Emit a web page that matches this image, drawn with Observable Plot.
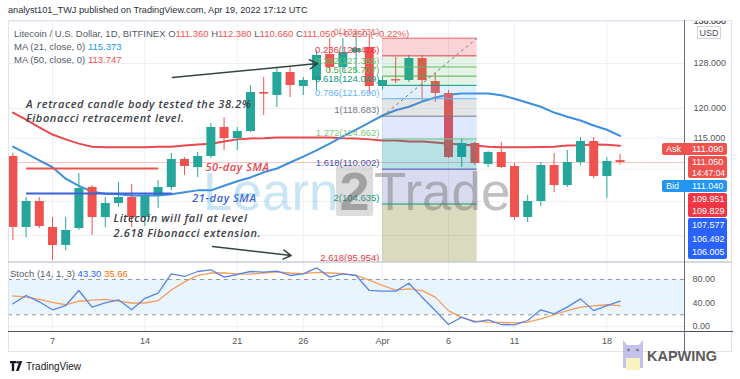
<!DOCTYPE html>
<html><head><meta charset="utf-8">
<script src="https://cdn.jsdelivr.net/npm/d3@7"></script>
<script src="https://cdn.jsdelivr.net/npm/@observablehq/plot@0.6"></script>
<style>
html,body{margin:0;padding:0;background:#fff;}
#root{position:relative;width:740px;height:379px;overflow:hidden;}
#root svg{position:absolute;left:0;}
</style></head><body><div id="root"></div>
<script>
const UI = "'Liberation Sans', Arial, sans-serif";
const NOTE_FONT = "'Open Sans', 'Liberation Sans', sans-serif";

// ---- data (Litecoin / USD, daily, Bitfinex) ----
const dates = ["2022-03-04","2022-03-05","2022-03-06","2022-03-07","2022-03-08","2022-03-09","2022-03-10","2022-03-11","2022-03-12","2022-03-13","2022-03-14","2022-03-15","2022-03-16","2022-03-17","2022-03-18","2022-03-19","2022-03-20","2022-03-21","2022-03-22","2022-03-23","2022-03-24","2022-03-25","2022-03-26","2022-03-27","2022-03-28","2022-03-29","2022-03-30","2022-03-31","2022-04-01","2022-04-02","2022-04-03","2022-04-04","2022-04-05","2022-04-06","2022-04-07","2022-04-08","2022-04-09","2022-04-10","2022-04-11","2022-04-12","2022-04-13","2022-04-14","2022-04-15","2022-04-16","2022-04-17","2022-04-18","2022-04-19"];
const open  = [112.01,101.17,105.01,101.17,98.59,101.02,107.14,102.63,104.71,105.61,102.63,105.92,107.14,111.53,110.26,112.01,116.77,114.94,116.10,122.79,122.26,126.36,123.85,124.92,129.67,127.27,130.04,130.98,123.85,124.83,124.92,128.93,124.74,122.61,111.85,114.12,110.74,112.66,110.42,102.63,105.01,110.58,107.45,111.05,114.45,108.85,111.36];
const high  = [112.50,105.61,105.61,102.63,102.63,109.31,107.45,105.61,107.91,107.60,106.22,108.22,112.50,111.85,112.66,117.44,118.46,116.77,124.03,125.46,127.27,127.27,125.46,130.41,132.68,132.68,134.00,133.25,125.46,129.11,129.48,129.48,126.18,123.14,114.94,114.29,112.82,114.29,110.89,105.92,111.05,112.50,112.98,115.11,115.11,111.85,112.38];
const low   = [99.30,99.72,101.02,96.49,97.88,100.73,100.01,101.17,104.11,101.17,101.31,103.96,106.68,109.00,108.69,111.69,112.98,112.98,115.94,118.80,120.17,121.91,122.26,123.14,126.18,126.36,126.36,122.61,123.14,124.38,124.56,121.39,121.04,111.69,110.26,110.58,110.26,110.10,102.19,101.89,104.26,106.37,107.14,110.58,108.53,105.46,110.66];
const close = [101.17,105.01,101.31,98.59,100.73,106.99,102.63,104.71,105.61,102.63,105.77,107.14,111.53,110.42,112.01,116.77,114.94,116.10,122.79,122.50,126.36,124.03,124.92,129.48,127.27,130.04,130.79,123.85,124.92,124.65,128.93,124.92,122.61,111.85,114.12,110.89,112.66,110.26,102.63,105.01,110.58,107.45,111.05,114.45,108.85,111.21,111.05];
const ma21  = [113.6,112.5,111.4,110.3,108.5,107.4,106.5,106.2,106.1,105.9,105.9,105.9,106.1,106.4,106.7,106.7,107.4,108.1,108.7,109.5,110.1,111.05,112.0,113.0,114.1,115.3,116.4,117.6,118.8,119.7,120.3,121.2,121.9,122.4,122.6,122.6,122.6,122.3,121.7,121.0,120.3,119.3,118.6,117.95,117.1,116.4,115.37];
const ma50  = [119.3,118.1,116.8,115.6,114.8,114.1,113.6,113.5,113.5,113.5,113.5,113.6,113.6,113.8,113.95,114.1,114.45,114.8,114.95,115.0,115.1,115.1,115.1,115.1,115.1,115.0,114.95,114.8,114.6,114.6,114.45,114.45,114.3,114.1,113.95,113.8,113.6,113.5,113.5,113.5,113.55,113.6,113.8,113.85,113.95,113.9,113.75];
const stochK = [38.6,52.8,42,28.4,35.7,61.3,32.9,40,45.4,28.4,48,56.7,89.6,85.1,93.6,96.5,84,88.5,93.6,92.5,94.2,86.8,89.6,99.9,84,89.6,86.8,61.3,60.2,60.2,73.7,49.9,27.2,3.4,15.9,7.4,11.3,3.4,2.8,10.2,28.4,21.6,32.9,47,27,35.5,43.3];
const stochD = [52,50,46,41,37,43,45,46,43,40,40,44,62,76,87,91,91,89.6,89,91,93,91,90,92,91,90,87,79,70,62,64,61,50,27,15,9,7.4,7,6,7.4,13,20,27,33,35,37,35.66];

const tickDates  = ["2022-03-07","2022-03-14","2022-03-21","2022-03-26","2022-04-01","2022-04-06","2022-04-11","2022-04-18"];
const tickLabels = ["7","14","21","26","Apr","6","11","18"];
const priceTicks = [100,105,110,115,120,128,136];
const stochTicks = [0,40,80];

// Fibonacci extension drawing
const fibStart = "2022-04-01", fibEnd = "2022-04-08T04:00";
const fibLevels = [0,0.236,0.382,0.5,0.618,0.786,1,1.272,1.618,2,2.618];
const fibPrices = [132.731,129.416,127.365,125.707,124.049,121.690,118.683,114.862,110.002,104.635,95.954];
const fibLineColors = ["#e57373","#f23645","#66bb6a","#4caf50","#089981","#64b5f6","#787b86","#81c784","#3f51b5","#089981","#f23645"];
const fibZoneColors = ["#f23645","#4caf50","#4caf50","#4caf50","#64b5f6","#787b86","#2962ff","#0097a7","#3f51b5","#6b6b00"];
const fibZoneAlpha  = [0.22,0.15,0.15,0.15,0.2,0.2,0.15,0.28,0.2,0.25];

// author's annotations (anchored in time / price like TradingView drawings)
const noteTexts  = ["A retraced candle body tested the 38.2%\nFibonacci retracement level.","Litecoin will fall at level\n2.618 Fibonacci extension.","50-day SMA","21-day SMA"];
const noteDates  = ["2022-03-05","2022-03-11T15:00","2022-03-18T14:00","2022-03-17T14:00"];
const notePrices = [119.66,101.53,110.42,105.61];
const noteColors = ["#3b3e46","#3b3e46","#e5484d","#3a63d6"];
const segFrom = ["2022-03-05","2022-03-05"], segTo = ["2022-03-15","2022-03-16T01:00"];
const segPrices = [110.10,106.22], segColors = ["#ef5350","#3a63d6"];
const arrowFrom = ["2022-03-16T02:00","2022-03-19T03:00"], arrowTo = ["2022-03-27T02:00","2022-03-25T02:00"];
const arrowP1 = [125.46,98.45], arrowP2 = [128.0,97.18];

// price scale tags
const tagTexts = [["Ask","111.090"],["111.050","14:47:04"],["Bid","111.040"],["109.951","109.829"],["107.577","106.492","106.005"]];

// ---- build ----
const T = s => new Date(s.length > 10 ? s + "Z" : s + "T00:00Z");
const DAY = 864e5;
const rows = dates.map((d,i)=>({date:T(d),open:open[i],high:high[i],low:low[i],close:close[i],ma21:ma21[i],ma50:ma50[i],k:stochK[i],d:stochD[i]}));
const xDomain = [new Date(+rows[0].date - 0.333*DAY), new Date(+rows[rows.length-1].date + 4.88*DAY)];
const UP = "#26a69a", DOWN = "#ef5350";
const dir = d => d.close >= d.open ? UP : DOWN;
const ticksT = tickDates.map(T);
const tickLab = new Map(ticksT.map((d,i)=>[+d, tickLabels[i]]));

const fib = fibLevels.map((l,i)=>({level:l, price:fibPrices[i], color:fibLineColors[i]}));
const zones = fibZoneColors.map((c,i)=>({top:fibPrices[i], bottom:fibPrices[i+1], color:c, op:fibZoneAlpha[i]}));
const notes = noteTexts.map((t,i)=>({text:t, date:T(noteDates[i]), price:notePrices[i], color:noteColors[i]}));
const segs = segFrom.map((s,i)=>({x1:T(s), x2:T(segTo[i]), y:segPrices[i], color:segColors[i]}));
const arrows = arrowFrom.map((s,i)=>({x1:T(s), x2:T(arrowTo[i]), y1:arrowP1[i], y2:arrowP2[i]}));
const lastClose = close[close.length-1];

const root = document.getElementById("root");

const main = Plot.plot({
  width: 740, height: 242, marginLeft: 8, marginRight: 56, marginTop: 0, marginBottom: 0,
  x: {type: "utc", domain: xDomain, axis: null},
  y: {type: "log", domain: [96.21, 136.15], axis: null},
  color: {type: "identity"},
  style: {background: "transparent", color: "#555", fontFamily: UI, fontSize: "9px"},
  marks: [
    Plot.ruleX(ticksT, {stroke: "#eef0f5"}),
    Plot.ruleY(priceTicks, {stroke: "#eef0f5"}),
    Plot.ruleY([lastClose], {stroke: "#ef5350", strokeOpacity: 0.35}),
    Plot.line(rows, {x: "date", y: "ma50", stroke: "#e8494e", strokeWidth: 2}),
    Plot.line(rows, {x: "date", y: "ma21", stroke: "#3d8fe0", strokeWidth: 2}),
    Plot.ruleX(rows, {x: "date", y1: "low", y2: "high", stroke: dir, strokeWidth: 1}),
    Plot.ruleX(rows, {x: "date", y1: "open", y2: d => Math.abs(d.close - d.open) < 0.25 ? d.open + 0.25 : d.close, stroke: dir, strokeWidth: 9}),
    Plot.rect(zones, {x1: () => T(fibStart), x2: () => T(fibEnd), y1: "top", y2: "bottom", fill: "color", fillOpacity: "op"}),
    Plot.ruleY(fib, {y: "price", x1: () => T(fibStart), x2: () => T(fibEnd), stroke: "color", strokeWidth: 1}),
    Plot.link([0], {x1: () => T(fibStart), y1: () => fibPrices[6], x2: () => T(fibEnd), y2: () => fibPrices[0], stroke: "#787b86", strokeDasharray: "3,3"}),
    Plot.text(fib, {x: () => T(fibStart), y: "price", text: d => `${d.level}(${d.price.toFixed(3)})`, textAnchor: "end", dx: -3, dy: -6, fill: "color", fontSize: 9.5}),
    Plot.link(segs, {x1: "x1", x2: "x2", y1: "y", y2: "y", stroke: "color", strokeWidth: 2}),
    Plot.arrow(arrows, {x1: "x1", y1: "y1", x2: "x2", y2: "y2", stroke: "#33453f", strokeWidth: 1.5, headLength: 9}),
    Plot.text(notes, {x: "date", y: "price", text: "text", fill: "color", textAnchor: "start", lineAnchor: "middle", lineHeight: 1.3, fontSize: 11, fontStyle: "italic", fontWeight: 600, fontFamily: NOTE_FONT}),
    Plot.axisY({anchor: "right", ticks: priceTicks.concat([136]), tickFormat: d3.format(".3f"), tickSize: 0, tickPadding: 9, fontSize: 9})
  ]
});
main.style.top = "20px";
d3.select(main).selectAll("g[font-style='italic']").attr("letter-spacing", "0.6px");
root.appendChild(main);

const stoch = Plot.plot({
  width: 740, height: 90, marginLeft: 8, marginRight: 56, marginTop: 0, marginBottom: 20.3,
  x: {type: "utc", domain: xDomain},
  y: {domain: [-9.7, 108.9], axis: null},
  style: {background: "transparent", color: "#555", fontFamily: UI, fontSize: "9px"},
  marks: [
    Plot.rect([0], {x1: () => xDomain[0], x2: () => xDomain[1], y1: () => 20, y2: () => 80, fill: "#2196f3", fillOpacity: 0.1}),
    Plot.ruleX(ticksT, {stroke: "#eef0f5"}),
    Plot.ruleY([0, 40], {stroke: "#eef0f5"}),
    Plot.ruleY([20, 80], {stroke: "#9598a1", strokeDasharray: "4,4"}),
    Plot.line(rows, {x: "date", y: "d", stroke: "#f59d5b", strokeWidth: 1.3}),
    Plot.line(rows, {x: "date", y: "k", stroke: "#5a84e6", strokeWidth: 1.3}),
    Plot.axisY({anchor: "right", ticks: stochTicks, tickFormat: d3.format(".2f"), tickSize: 0, tickPadding: 8, fontSize: 9}),
    Plot.axisX({ticks: ticksT, tickFormat: d => tickLab.get(+d), tickSize: 0, tickPadding: 5, fontSize: 9, label: null})
  ]
});
stoch.style.top = "262px";
root.appendChild(stoch);

// ---- overlay: chrome, legends, watermark, price tags ----
const ov = d3.select(root).append("svg").attr("width", 740).attr("height", 379)
  .style("top", "0px").style("pointer-events", "none").attr("font-family", UI);

// watermark Learn2Trade
const wm = ov.append("g");
wm.append("text").attr("x", 203).attr("y", 210).attr("font-size", 53).attr("fill", "#3fa0dc").attr("opacity", 0.27).text("Learn");
wm.append("rect").attr("x", 336).attr("y", 166).attr("width", 37).attr("height", 50).attr("rx", 2).attr("fill", "#8a8a8a").attr("opacity", 0.3);
wm.append("text").attr("x", 354.5).attr("y", 210).attr("text-anchor", "middle").attr("font-size", 54).attr("font-weight", "bold").attr("fill", "#4a4a4a").attr("opacity", 0.4).text("2");
wm.append("text").attr("x", 374).attr("y", 210).attr("font-size", 53).attr("fill", "#6a6a6a").attr("opacity", 0.42).text("Trade");

// chart chrome lines
ov.append("rect").attr("x", 8.5).attr("y", 20.5).attr("width", 723).attr("height", 331).attr("fill", "none").attr("stroke", "#e0e3eb");
ov.append("line").attr("x1", 8).attr("x2", 732).attr("y1", 262).attr("y2", 262).attr("stroke", "#c9ccd4").attr("stroke-width", 1.5);
ov.append("line").attr("x1", 8).attr("x2", 733).attr("y1", 331.5).attr("y2", 331.5).attr("stroke", "#50535e");
ov.append("line").attr("x1", 684.5).attr("x2", 684.5).attr("y1", 20).attr("y2", 352).attr("stroke", "#6a6d78");

// header & legends
const line = (x, y, parts, size) => {
  const t = ov.append("text").attr("x", x).attr("y", y).attr("dominant-baseline", "central").attr("font-size", size || 9.5);
  parts.forEach(([s, c]) => t.append("tspan").attr("fill", c).text(s));
};
line(8, 10, [["analyst101_TWJ published on TradingView.com, Apr 19, 2022 17:12 UTC", "#2a2e39"]], 9.2);
const R = "#ef5350", G = "#555a66";
line(14, 33, [["Litecoin / U.S. Dollar, 1D, BITFINEX  ", G], ["O", G], ["111.360  ", R], ["H", G], ["112.380  ", R], ["L", G], ["110.660  ", R], ["C", G], ["111.050  ", R], ["\u22120.250 (\u22120.22%)", R]]);
line(14, 46, [["MA (21, close, 0)  ", G], ["115.373", "#2196f3"]]);
line(14, 59, [["MA (50, close, 0)  ", G], ["113.747", R]]);
line(10, 273, [["Stoch (14, 1, 3)  ", G], ["43.30  ", "#2962ff"], ["35.66", "#ff6d00"]]);

// USD box
ov.append("rect").attr("x", 697.5).attr("y", 26.5).attr("width", 23).attr("height", 12).attr("fill", "#fff").attr("stroke", "#d1d4dc");
ov.append("text").attr("x", 709).attr("y", 32.5).attr("text-anchor", "middle").attr("dominant-baseline", "central").attr("font-size", 9).attr("fill", "#555").text("USD");

// price tags
const tags = [
  {x: 662, y: 143, h: 12, fill: "#ef5350", lines: tagTexts[0], label: true},
  {x: 688, y: 156, h: 22, fill: "#ef5350", lines: tagTexts[1]},
  {x: 662, y: 180, h: 12, fill: "#2196f3", lines: tagTexts[2], label: true},
  {x: 688, y: 193, h: 24, fill: "#f23645", lines: tagTexts[3]},
  {x: 688, y: 218, h: 41, fill: "#2962ff", lines: tagTexts[4]}
];
tags.forEach(t => {
  ov.append("rect").attr("x", t.x).attr("y", t.y).attr("width", 727 - t.x).attr("height", t.h).attr("rx", 2).attr("fill", t.fill);
  if (t.label) {
    ov.append("text").attr("x", 666).attr("y", t.y + 6).attr("dominant-baseline", "central").attr("font-size", 9).attr("fill", "#fff").text(t.lines[0]);
    ov.append("text").attr("x", 692).attr("y", t.y + 6).attr("dominant-baseline", "central").attr("font-size", 9).attr("fill", "#fff").text(t.lines[1]);
  } else {
    const step = t.h / t.lines.length;
    t.lines.forEach((s, i) => ov.append("text").attr("x", 692).attr("y", t.y + step * (i + 0.5)).attr("dominant-baseline", "central")
      .attr("font-size", s.includes(":") ? 8.5 : 9).attr("fill", "#fff").text(s));
  }
});

// TradingView footer
const tv = ov.append("g").attr("transform", "translate(10,361)");
tv.append("path").attr("d", "M0 0h6v2.2h-1.8v7.8h-2.4v-7.8h-1.8z").attr("fill", "#131722");
tv.append("circle").attr("cx", 7.6).attr("cy", 1.3).attr("r", 1.3).attr("fill", "#131722");
tv.append("path").attr("d", "M9.5 0h2.7l-3.6 10h-2.6z").attr("fill", "#131722");
ov.append("text").attr("x", 26).attr("y", 366).attr("dominant-baseline", "central").attr("font-size", 10).attr("fill", "#131722").text("TradingView");

// Kapwing watermark
const kp = ov.append("g").attr("opacity", 0.85);
kp.append("path").attr("d", "M623 340l4 5h12l4-5v28h-20z").attr("fill", "#b9b7ea");
kp.append("rect").attr("x", 626).attr("y", 358).attr("width", 14).attr("height", 12).attr("fill", "#f6f0b3");
kp.append("circle").attr("cx", 628.5).attr("cy", 350).attr("r", 1.2).attr("fill", "#555");
kp.append("circle").attr("cx", 637.5).attr("cy", 350).attr("r", 1.2).attr("fill", "#555");
ov.append("text").attr("x", 647).attr("y", 355.5).attr("dominant-baseline", "central").attr("font-size", 14.5).attr("font-weight", "bold").attr("fill", "#5b5b5b").text("KAPWING");
</script>
</body></html>
